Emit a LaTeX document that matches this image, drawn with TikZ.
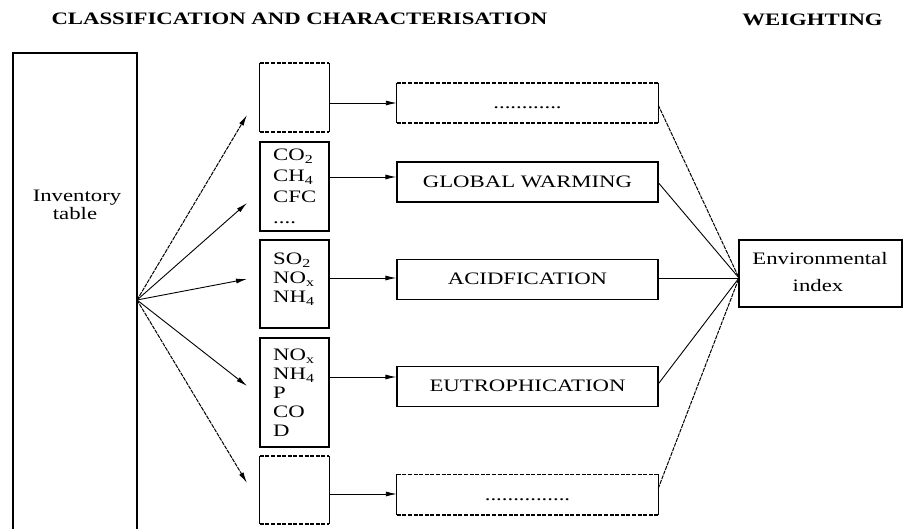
\documentclass[tikz,border=0pt]{standalone}
\usepackage{fontspec}
\setmainfont{Liberation Serif}
\usepackage{graphicx}
\usetikzlibrary{arrows.meta}
% wide lettering used throughout the chart
\newcommand\stretched[1]{\scalebox{1.3}[1]{#1}}
\tikzset{
  every node/.style={font=\fontsize{17.5}{19.5}\selectfont, inner sep=0pt},
  frame/.style={draw, line width=1.2pt},
  ghost/.style={draw=none},
  smallbox/.style={minimum width=69pt},
  widebox/.style={minimum width=261pt, minimum height=40pt, text height=12pt, text depth=1pt},
  dashedge/.style={line width=1.6pt, dash pattern=on 4pt off 1.6pt},
  solidedge/.style={line width=1.2pt},
  conn/.style={line width=0.9pt},
  fineconn/.style={line width=1pt, dash pattern=on 4pt off 1pt},
  arr/.style={conn, -{Latex[length=11pt,width=5pt]}},
  finearr/.style={fineconn, -{Latex[length=11pt,width=5pt]}},
}
\begin{document}
\begin{tikzpicture}[x=1pt,y=-1pt]
\useasboundingbox (0,0) rectangle (903,529);
\clip (0,0) rectangle (903,529);

% headings
\node[anchor=base] (title1) at (299.5,25) {\bfseries\stretched{CLASSIFICATION AND CHARACTERISATION}};
\node[anchor=base] (title2) at (812.5,26) {\bfseries\stretched{WEIGHTING}};

% inventory table (runs off the bottom edge)
\node[frame, minimum width=124pt, minimum height=487pt] (inv) at (75,296.5) {};
\node[anchor=base] (invl1) at (77,202) {\stretched{Inventory}};
\node[anchor=base] (invl2) at (75,220) {\stretched{table}};

% substance groups
\node[ghost, smallbox, minimum height=69pt] (s1) at (294.5,97.5) {};
\node[frame, smallbox, minimum height=89pt] (s2) at (294.5,186.5) {};
\node[frame, smallbox, minimum height=88pt] (s3) at (294.5,284) {};
\node[frame, smallbox, minimum height=109pt] (s4) at (294.5,392.5) {};
\node[ghost, smallbox, minimum height=68pt] (s5) at (294.5,490) {};

\node[anchor=base west] (c2) at (273,161) {\fontsize{17.5}{21}\selectfont\stretched{\begin{tabular}[t]{@{}l@{}}CO\textsubscript{2}\\CH\textsubscript{4}\\CFC\\....\end{tabular}}};
\node[anchor=base west] (c3) at (273,265) {\fontsize{17.5}{19}\selectfont\stretched{\begin{tabular}[t]{@{}l@{}}SO\textsubscript{2}\\NO\textsubscript{x}\\NH\textsubscript{4}\end{tabular}}};
\node[anchor=base west] (c4) at (273,361) {\fontsize{17.5}{18.8}\selectfont\stretched{\begin{tabular}[t]{@{}l@{}}NO\textsubscript{x}\\NH\textsubscript{4}\\P\\CO\\D\end{tabular}}};

% impact categories
\node[ghost, widebox] (w1) at (527.5,103) {\stretched{............}};
\node[frame, widebox] (w2) at (527.5,182) {\stretched{GLOBAL WARMING}};
\node[frame, widebox] (w3) at (527.5,279.5) {\stretched{ACIDFICATION}};
\node[frame, widebox] (w4) at (527.5,386.5) {\stretched{EUTROPHICATION}};
\node[ghost, widebox] (w5) at (527.5,494.5) {\stretched{...............}};

% open-ended boxes: dashed top and bottom, solid sides
\foreach \n in {s1,s5,w1,w5} {
  \draw[dashedge] (\n.north west) -- (\n.north east) (\n.south west) -- (\n.south east);
  \draw[solidedge] (\n.north west) -- (\n.south west) (\n.north east) -- (\n.south east);
}

% environmental index
\node[frame, minimum width=163pt, minimum height=67pt] (env) at (820.5,273.5) {};
\node[anchor=base] (envl1) at (820,265) {\stretched{Environmental}};
\node[anchor=base] (envl2) at (818,292) {\stretched{index}};

% fan-out from the inventory table
\coordinate (src) at (137,300);
\coordinate (t1) at (247,115);
\coordinate (t2) at (247,203);
\coordinate (t3) at (247,279);
\coordinate (t4) at (247,386);
\coordinate (t5) at (247,483);
\draw[finearr] (src) -- (t1);
\draw[arr] (src) -- (t2);
\draw[arr] (src) -- (t3);
\draw[arr] (src) -- (t4);
\draw[finearr] (src) -- (t5);

% groups to categories
\coordinate (h1) at (0,103);
\coordinate (h2) at (0,177);
\coordinate (h3) at (0,278);
\coordinate (h4) at (0,377);
\coordinate (h5) at (0,494);
\draw[arr] (s1.east |- h1) -- (w1.west |- h1);
\draw[arr] (s2.east |- h2) -- (w2.west |- h2);
\draw[arr] (s3.east |- h3) -- (w3.west |- h3);
\draw[arr] (s4.east |- h4) -- (w4.west |- h4);
\draw[arr] (s5.east |- h5) -- (w5.west |- h5);

% categories merged into the index
\coordinate (hub) at (739,278);
\draw[fineconn] ([yshift=-2pt]w1.east) -- (hub);
\draw[conn] ([yshift=-1pt]w2.east) -- (hub);
\draw[conn] (w3.east |- hub) -- (hub);
\draw[conn] ([yshift=3pt]w4.east) -- (hub);
\draw[fineconn] ([yshift=6pt]w5.east) -- (hub);
\end{tikzpicture}
\end{document}
